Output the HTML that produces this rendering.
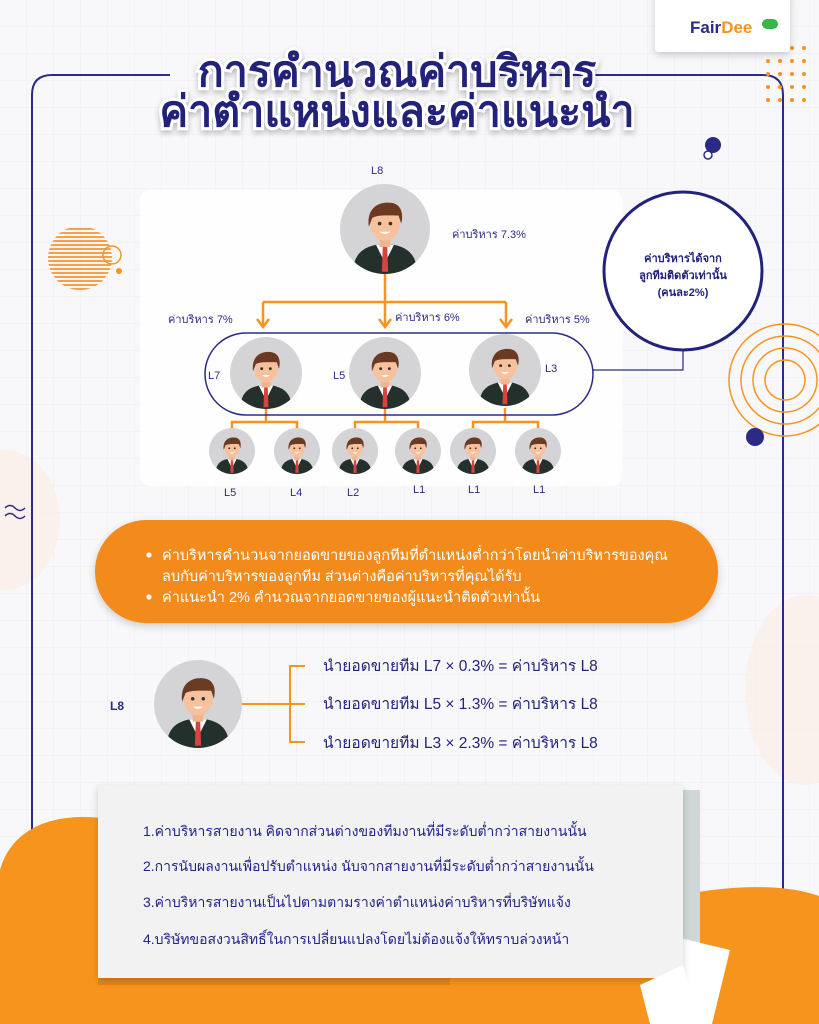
<!DOCTYPE html>
<html><head><meta charset="utf-8"><style>
html,body{margin:0;padding:0;width:819px;height:1024px;overflow:hidden;background:#f8f8fb}
svg{display:block}
text{font-family:"Liberation Sans","Noto Sans CJK SC",sans-serif}
</style></head><body>
<svg width="819" height="1024" viewBox="0 0 819 1024" xmlns="http://www.w3.org/2000/svg">
<defs>
<pattern id="grid" width="27" height="27" patternUnits="userSpaceOnUse">
<path d="M27 0V27H0" fill="none" stroke="#ebebf3" stroke-width="1"/>
</pattern>
<pattern id="stripe" width="4" height="4" patternUnits="userSpaceOnUse">
<rect width="4" height="2" fill="#f7a04a"/>
</pattern>
<filter id="sh" x="-20%" y="-20%" width="140%" height="140%"><feDropShadow dx="0" dy="3" stdDeviation="4" flood-color="#000" flood-opacity="0.18"/></filter>
<filter id="tsh" x="-10%" y="-20%" width="120%" height="150%"><feDropShadow dx="0" dy="3" stdDeviation="3" flood-color="#000" flood-opacity="0.25"/></filter>
<clipPath id="cc"><circle cx="0" cy="0" r="1"/></clipPath>
<g id="av">
<circle r="1" fill="#d4d4d6"/>
<g clip-path="url(#cc)">
<path d="M-0.72 1 C-0.7 0.55 -0.5 0.42 -0.2 0.35 L0.2 0.35 C0.5 0.42 0.7 0.55 0.72 1Z" fill="#23302c"/>
<path d="M-0.2 0.35 L0 0.75 L0.2 0.35Z" fill="#fff"/>
<path d="M-0.05 0.4 L0.05 0.4 L0.07 0.95 L-0.07 0.95Z" fill="#d9433f"/>
<rect x="-0.12" y="0.15" width="0.24" height="0.25" fill="#f1b48f"/>
<ellipse cx="0" cy="-0.12" rx="0.33" ry="0.38" fill="#f6c19c"/>
<path d="M-0.36 -0.05 C-0.42 -0.5 -0.1 -0.62 0.15 -0.58 C0.35 -0.55 0.42 -0.35 0.36 -0.12 L0.3 -0.3 C0.1 -0.3 -0.15 -0.32 -0.28 -0.25 Z" fill="#6b3a22"/>
<path d="M-0.12 0.06 Q0 0.16 0.12 0.06Z" fill="#fff"/>
<circle cx="-0.12" cy="-0.12" r="0.04" fill="#333"/><circle cx="0.12" cy="-0.12" r="0.04" fill="#333"/>
</g>
</g>
</defs>
<rect width="819" height="1024" fill="#f8f8fb"/>
<rect width="819" height="1024" fill="url(#grid)"/>
<!-- faint blobs -->
<ellipse cx="5" cy="520" rx="55" ry="70" fill="#fbece2" opacity="0.6"/>
<ellipse cx="805" cy="690" rx="60" ry="95" fill="#fbece2" opacity="0.6"/>
<!-- frame -->
<path d="M170 75 H52 Q32 75 32 95 V900" fill="none" stroke="#2b2b86" stroke-width="2"/>
<path d="M500 75 H763 Q783 75 783 95 V900" fill="none" stroke="#2b2b86" stroke-width="2"/>
<!-- orange bottom shapes -->
<path d="M0 870 C10 835 40 818 80 817 C120 816 150 830 170 850 L660 900 C700 890 740 885 780 888 C800 890 810 893 819 896 L819 1024 L0 1024Z" fill="#f7941d"/>
<!-- dots -->
<g fill="#f7941d">
<circle cx="768" cy="48" r="2"/><circle cx="780" cy="48" r="2"/><circle cx="792" cy="48" r="2"/><circle cx="804" cy="48" r="2"/>
<circle cx="768" cy="61" r="2"/><circle cx="780" cy="61" r="2"/><circle cx="792" cy="61" r="2"/><circle cx="804" cy="61" r="2"/>
<circle cx="768" cy="74" r="2"/><circle cx="780" cy="74" r="2"/><circle cx="792" cy="74" r="2"/><circle cx="804" cy="74" r="2"/>
<circle cx="768" cy="87" r="2"/><circle cx="780" cy="87" r="2"/><circle cx="792" cy="87" r="2"/><circle cx="804" cy="87" r="2"/>
<circle cx="768" cy="100" r="2"/><circle cx="780" cy="100" r="2"/><circle cx="792" cy="100" r="2"/><circle cx="804" cy="100" r="2"/>
</g>
<!-- logo box -->
<rect x="655" y="-10" width="135" height="62" rx="4" fill="#fff" filter="url(#sh)"/>
<text x="690" y="33" font-size="17" font-weight="bold" fill="#2b2b86">Fair<tspan fill="#f7941d">Dee</tspan></text>
<rect x="762" y="19" width="16" height="10" rx="5" fill="#3ab54a"/>
<!-- title -->
<g filter="url(#tsh)" font-weight="bold" font-size="43" text-anchor="middle" fill="#22227a" stroke="#fff" stroke-width="6" paint-order="stroke">
<text x="397" y="86">การคำนวณค่าบริหาร</text>
<text x="397" y="126">ค่าตำแหน่งและค่าแนะนำ</text>
</g>
<!-- decorations -->
<circle cx="80" cy="258" r="32" fill="url(#stripe)"/>
<circle cx="112" cy="255" r="9" fill="none" stroke="#f7941d" stroke-width="1.5"/>
<circle cx="119" cy="271" r="3" fill="#f7941d"/>
<circle cx="713" cy="145" r="8" fill="#2b2b86"/><circle cx="708" cy="155" r="4" fill="#fff" stroke="#2b2b86" stroke-width="1.5"/>
<g fill="none" stroke="#f7941d" stroke-width="1.5"><circle cx="785" cy="380" r="20"/><circle cx="785" cy="380" r="32"/><circle cx="785" cy="380" r="44"/><circle cx="785" cy="380" r="56"/></g>
<circle cx="755" cy="437" r="9" fill="#2b2b86"/>
<path d="M5 508 q5 -5 10 0 t10 0 M5 516 q5 -5 10 0 t10 0" fill="none" stroke="#2b2b86" stroke-width="1.5"/>
<!-- card -->
<rect x="140" y="190" width="482" height="296" rx="10" fill="#fff" opacity="0.85"/>
<!-- org chart -->
<g stroke="#f7941d" stroke-width="2.5" fill="none">
<path d="M385 270 V302 M263 302 H506 M263 302 V325 M385 302 V325 M506 302 V325"/>
<path d="M257 319 L263 327 L269 319 M379 319 L385 327 L391 319 M500 319 L506 327 L512 319"/>
<path d="M266 408 V422 M232 436 V422 H297 V436 M385 408 V422 M355 436 V422 H418 V436 M505 408 V422 M473 436 V422 H538 V436"/>
</g>
<rect x="205" y="333" width="388" height="82" rx="41" fill="none" stroke="#2b2b86" stroke-width="1.5"/>
<path d="M593 370 H683 V350" fill="none" stroke="#2b2b86" stroke-width="1.2"/>
<circle cx="683" cy="271" r="79" fill="#fff" stroke="#22227a" stroke-width="3"/>
<g font-size="11" font-weight="bold" fill="#22227a" text-anchor="middle">
<text x="683" y="262">ค่าบริหารได้จาก</text>
<text x="683" y="279">ลูกทีมติดตัวเท่านั้น</text>
<text x="683" y="296">(คนละ2%)</text>
</g>
<use href="#av" transform="translate(385,229) scale(45)"/>
<use href="#av" transform="translate(266,373) scale(36)"/>
<use href="#av" transform="translate(385,373) scale(36)"/>
<use href="#av" transform="translate(505,370) scale(36)"/>
<use href="#av" transform="translate(232,451) scale(23)"/>
<use href="#av" transform="translate(297,451) scale(23)"/>
<use href="#av" transform="translate(355,451) scale(23)"/>
<use href="#av" transform="translate(418,451) scale(23)"/>
<use href="#av" transform="translate(473,451) scale(23)"/>
<use href="#av" transform="translate(538,451) scale(23)"/>
<g font-size="11" fill="#2b2b86">
<text x="371" y="174">L8</text>
<text x="452" y="238">ค่าบริหาร 7.3%</text>
<text x="168" y="323">ค่าบริหาร 7%</text>
<text x="395" y="321">ค่าบริหาร 6%</text>
<text x="525" y="323">ค่าบริหาร 5%</text>
<text x="208" y="379">L7</text><text x="333" y="379">L5</text><text x="545" y="372">L3</text>
<text x="224" y="496">L5</text><text x="290" y="496">L4</text><text x="347" y="496">L2</text><text x="413" y="493">L1</text><text x="468" y="493">L1</text><text x="533" y="493">L1</text>
</g>
<!-- orange pill -->
<rect x="95" y="520" width="623" height="103" rx="51" fill="#f38b1f" filter="url(#sh)"/>
<g font-size="14.5" fill="#fff">
<circle cx="149" cy="555" r="2.6" fill="#fff"/>
<text x="162" y="560">ค่าบริหารคำนวนจากยอดขายของลูกทีมที่ตำแหน่งต่ำกว่าโดยนำค่าบริหารของคุณ</text>
<text x="162" y="581">ลบกับค่าบริหารของลูกทีม ส่วนต่างคือค่าบริหารที่คุณได้รับ</text>
<circle cx="149" cy="597" r="2.6" fill="#fff"/>
<text x="162" y="602">ค่าแนะนำ 2% คำนวณจากยอดขายของผู้แนะนำติดตัวเท่านั้น</text>
</g>
<!-- L8 formula -->
<use href="#av" transform="translate(198,704) scale(44)"/>
<text x="110" y="710" font-size="12" font-weight="bold" fill="#2b2b86">L8</text>
<path d="M242 704 H290 M305 666 H290 V742 H305 M290 704 H305" fill="none" stroke="#f7941d" stroke-width="2"/>
<g font-size="15.5" fill="#22227a">
<text x="323" y="671">นำยอดขายทีม L7 × 0.3% = ค่าบริหาร L8</text>
<text x="323" y="709">นำยอดขายทีม L5 × 1.3% = ค่าบริหาร L8</text>
<text x="323" y="748">นำยอดขายทีม L3 × 2.3% = ค่าบริหาร L8</text>
</g>
<!-- grey box -->
<rect x="98" y="790" width="352" height="195" fill="#c97a20" opacity="0.5"/>
<rect x="660" y="790" width="40" height="160" fill="#cfd8d6"/>
<path d="M680 938 L730 950 L712 1024 L655 1024Z" fill="#fff"/>
<rect x="98" y="785" width="585" height="193" fill="#f2f2f2" filter="url(#sh)"/>
<path d="M640 985 L683 965 L700 1024 L650 1024Z" fill="#fff"/>
<g font-size="14" fill="#23238a">
<text x="143" y="836">1.ค่าบริหารสายงาน คิดจากส่วนต่างของทีมงานที่มีระดับต่ำกว่าสายงานนั้น</text>
<text x="143" y="871">2.การนับผลงานเพื่อปรับตำแหน่ง นับจากสายงานที่มีระดับต่ำกว่าสายงานนั้น</text>
<text x="143" y="907">3.ค่าบริหารสายงานเป็นไปตามตามรางค่าตำแหน่งค่าบริหารที่บริษัทแจ้ง</text>
<text x="143" y="944">4.บริษัทขอสงวนสิทธิ์ในการเปลี่ยนแปลงโดยไม่ต้องแจ้งให้ทราบล่วงหน้า</text>
</g>
</svg>
</body></html>
